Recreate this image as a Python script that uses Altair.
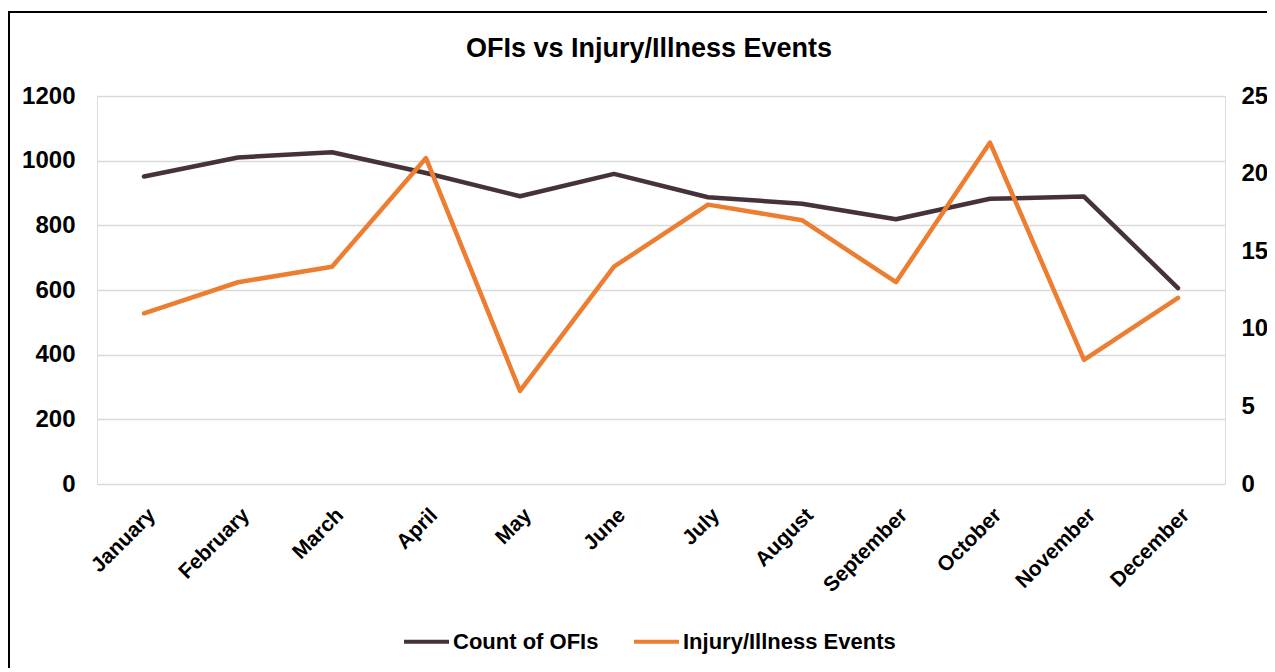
import altair as alt
import pandas as pd

months = ["January", "February", "March", "April", "May", "June", "July",
          "August", "September", "October", "November", "December"]
ofis = [951, 1010, 1026, 962, 890, 959, 887, 867, 819, 882, 889, 606]
injuries = [11, 13, 14, 21, 6, 14, 18, 17, 13, 22, 8, 12]
series_names = ["Count of OFIs", "Injury/Illness Events"]
series_colors = ["#46323a", "#ed7d31"]
chart_title = "OFIs vs Injury/Illness Events"

df = pd.DataFrame({"Month": months, "OFIs": ofis, "Injuries": injuries})

FONT = "Liberation Sans"

color_scale = alt.Scale(domain=series_names, range=series_colors)

x_enc = alt.X("Month:N", sort=months, title=None,
              scale=alt.Scale(paddingInner=1, paddingOuter=0.5),
              axis=alt.Axis(labelAngle=-45, labelFont=FONT, labelFontSize=21,
                            labelFontWeight="bold", labelColor="#000000",
                            labelPadding=20, ticks=False, domain=False, grid=False))

left = alt.Chart(df).mark_line(strokeWidth=4.5, strokeCap="round", strokeJoin="round").encode(
    x=x_enc,
    y=alt.Y("OFIs:Q", title=None,
            scale=alt.Scale(domain=[0, 1200], nice=False),
            axis=alt.Axis(values=[0, 200, 400, 600, 800, 1000, 1200], format="d",
                          labelFont=FONT, labelFontSize=24, labelFontWeight="bold",
                          labelColor="#000000", labelPadding=22, ticks=False, domain=False,
                          grid=True, gridColor="#d9d9d9", gridWidth=1.5)),
    color=alt.Color("s:N", scale=color_scale, sort=series_names,
                    legend=alt.Legend(title=None, orient="none", direction="horizontal",
                                      legendX=305, legendY=521,
                                      symbolType="stroke", symbolSize=2025,
                                      symbolStrokeWidth=4, labelFont=FONT,
                                      labelFontSize=22, labelFontWeight="bold",
                                      labelColor="#000000", labelOffset=2,
                                      labelLimit=400, columnPadding=27)),
).transform_calculate(s="'Count of OFIs'")

right = alt.Chart(df).mark_line(strokeWidth=4.5, strokeCap="round", strokeJoin="round").encode(
    x=x_enc,
    y=alt.Y("Injuries:Q", title=None,
            scale=alt.Scale(domain=[0, 25], nice=False),
            axis=alt.Axis(orient="right", values=[0, 5, 10, 15, 20, 25], format="d",
                          labelFont=FONT, labelFontSize=24, labelFontWeight="bold",
                          labelColor="#000000", labelPadding=16, ticks=False, domain=False,
                          grid=False)),
    color=alt.Color("s:N", scale=color_scale, sort=series_names),
).transform_calculate(s="'Injury/Illness Events'")

deco = pd.DataFrame({"title": [chart_title]})

frame = alt.Chart(deco).mark_rect(
    fill="#ffffff", fillOpacity=0, stroke="#000000", strokeWidth=2
).encode(x=alt.value(-88), x2=alt.value(1300), y=alt.value(-84), y2=alt.value(700))

title_text = alt.Chart(deco).mark_text(
    font=FONT, fontSize=27, fontWeight="bold", color="#000000",
    align="center", baseline="alphabetic"
).encode(x=alt.value(552), y=alt.value(-39), text="title:N")

chart = alt.layer(frame, title_text, left, right).resolve_scale(y="independent").properties(
    width=1128, height=388,
    autosize=alt.AutoSizeParams(type="none"),
    padding={"left": 89, "top": 88, "right": 42, "bottom": 184},
).configure_view(stroke=None).configure(background="#ffffff")

chart.save("out.html", embed_options={"renderer": "svg", "actions": False})
